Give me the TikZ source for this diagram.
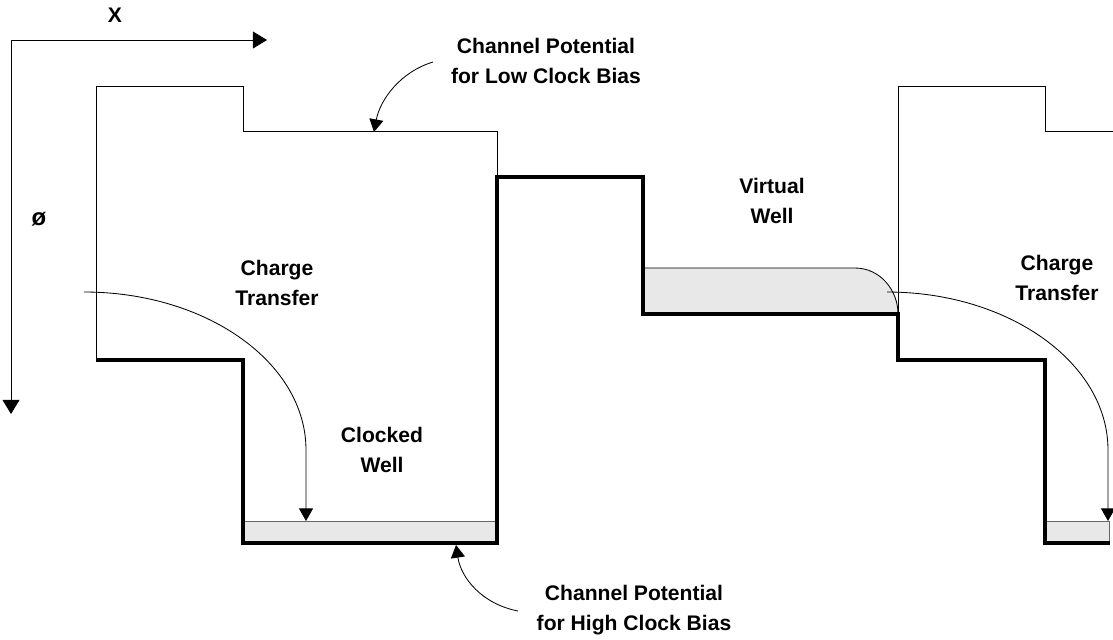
\documentclass[tikz,border=0pt]{standalone}
\usepackage{fontspec}
\setmainfont{Liberation Sans}
\usetikzlibrary{arrows.meta}
\definecolor{wellgray}{HTML}{E8E8E8}
\tikzset{
	thinpot/.style={line width=0.7pt},
	thickpot/.style={line width=2.2pt},
	wellfill/.style={fill=wellgray, draw=black!60, line width=0.6pt},
	flow/.style={line width=0.6pt, -{Triangle[length=9pt, width=10pt]}},
	lbl/.style={font=\fontsize{15}{21}\selectfont\bfseries, align=center, inner sep=0pt}
}
\begin{document}
\begin{tikzpicture}[x=0.025cm, y=-0.025cm]
	\useasboundingbox (0,0) rectangle (1113,639);
	%axes
	\coordinate (origin) at (11,40);
	\coordinate (xend) at (267,40);
	\coordinate (yend) at (11,414);
	\draw[line width=0.7pt, -{Triangle[length=10pt, width=12pt]}] (origin) -- (xend);	%x axis
	\draw[line width=0.7pt, -{Triangle[length=10pt, width=12pt]}] (origin) -- (yend);	%phi axis
	\node[lbl] (xlbl) at (115,15) {X};
	\node[lbl, font=\fontsize{17}{21}\selectfont\bfseries] (philbl) at (39,219) {ø};
	%wells (filled charge)
	\filldraw[wellfill] (243,543) rectangle (497,521);		%clocked well
	\filldraw[wellfill] (1045,543) rectangle (1109,521);		%right clocked well
	\fill[wellgray] (643,314) -- (643,268) -- (855,268) .. controls (880,268) and (898,290) .. (898,314) -- cycle;
	\draw[line width=0.6pt] (643,268) -- (855,268) .. controls (880,268) and (898,290) .. (898,314);	%virtual well
	%low clock bias
	\draw[thinpot] (96,360) -- (96,86) -- (243,86) -- (243,131) -- (497,131) -- (497,177);
	\draw[thinpot] (898,314) -- (898,86) -- (1045,86) -- (1045,131) -- (1113,131);
	%high clock bias
	\draw[thickpot] (96,360) -- (243,360) -- (243,543) -- (497,543) -- (497,177) -- (643,177)
		-- (643,314) -- (898,314) -- (898,360) -- (1045,360) -- (1045,543) -- (1110,543);
	%charge transfer
	\coordinate (ctlA) at (84,292);
	\coordinate (ctlB) at (306,521);
	\coordinate (ctrA) at (887,292);
	\coordinate (ctrB) at (1108,521);
	\draw[flow] (ctlA) .. controls (207,292) and (306,363) .. (306,450) -- (ctlB);
	\draw[flow] (ctrA) .. controls (1009,292) and (1108,363) .. (1108,450) -- (ctrB);
	%labels
	\node[lbl] (lowlbl) at (546,61) {Channel Potential\\for Low Clock Bias};
	\node[lbl] (highlbl) at (634,610) {Channel Potential\\for High Clock Bias};
	\node[lbl] (chargeL) at (277,283) {Charge\\Transfer};
	\node[lbl] (clocked) at (382,450) {Clocked\\Well};
	\node[lbl] (virtual) at (772,201) {Virtual\\Well};
	\node[lbl] (chargeR) at (1057,278) {Charge\\Transfer};
	\coordinate (lowA) at (433,62);
	\coordinate (lowB) at (374,132);
	\coordinate (highA) at (518,611);
	\coordinate (highB) at (456,545);
	\draw[flow] (lowA) .. controls (400,72) and (380,100) .. (lowB);
	\draw[flow] (highA) .. controls (482,604) and (461,578) .. (highB);
\end{tikzpicture}
\end{document}
